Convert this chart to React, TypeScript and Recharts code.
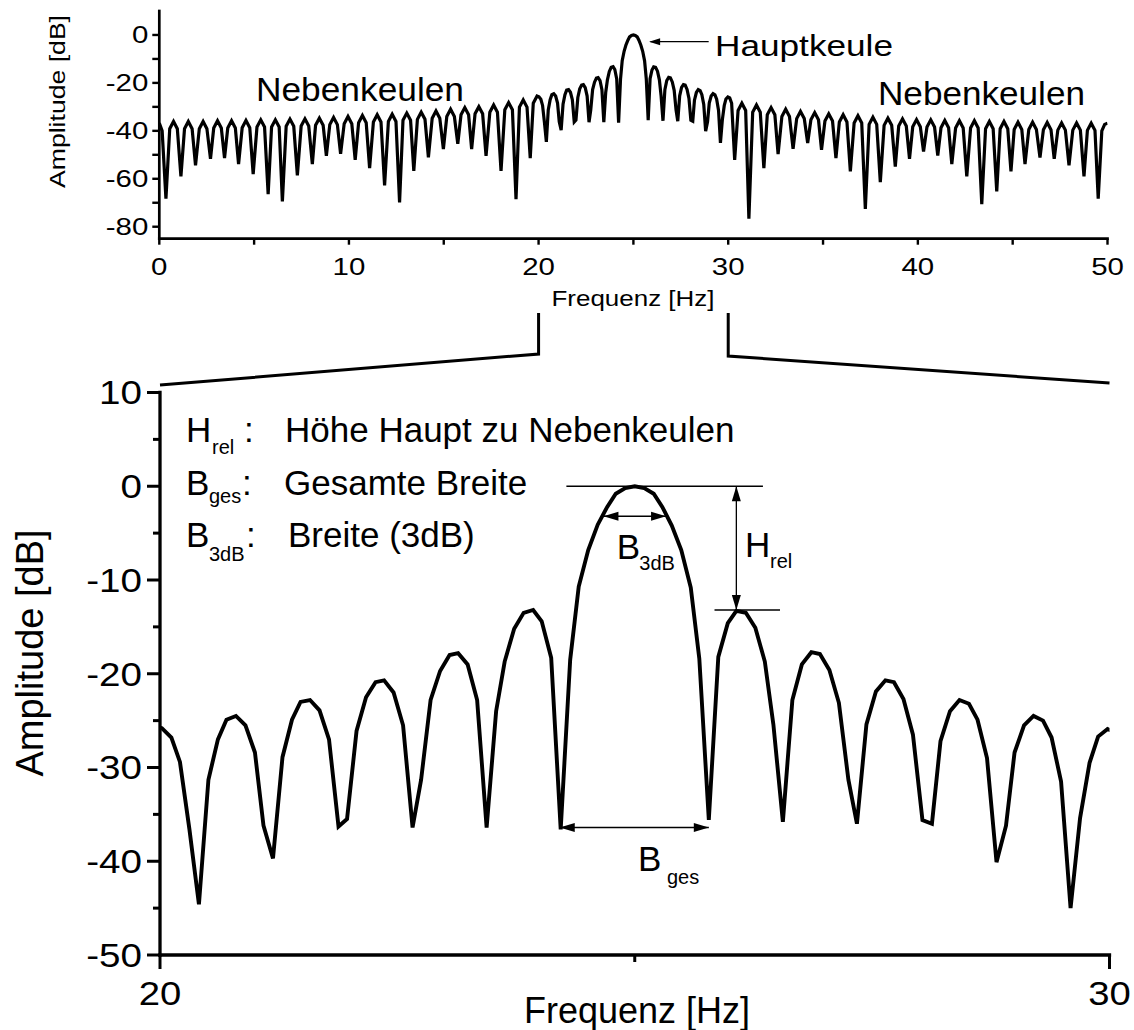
import React from 'react';
import { LineChart, Line, XAxis, YAxis } from 'recharts';

const FONT = '"Liberation Sans", Arial, Helvetica, sans-serif';

// ---------- DATA ----------
// zoomed range 20–30 Hz (FFT bins), shared by both panels
const zoomFreq = [
  19.92, 20.02, 20.12, 20.21, 20.31, 20.41, 20.51, 20.61, 20.70, 20.80, 20.90,
  21.00, 21.09, 21.19, 21.29, 21.39, 21.48, 21.58, 21.68, 21.78, 21.88, 21.97,
  22.07, 22.17, 22.27, 22.36, 22.46, 22.56, 22.66, 22.75, 22.85, 22.95,
  23.05, 23.14, 23.24, 23.34, 23.44, 23.54, 23.63, 23.73, 23.83, 23.93,
  24.02, 24.12, 24.22, 24.32, 24.41, 24.51, 24.61, 24.71, 24.80, 24.90,
  25.00, 25.10, 25.20, 25.29, 25.39, 25.49, 25.59, 25.68, 25.78, 25.88, 25.98,
  26.07, 26.17, 26.27, 26.37, 26.46, 26.56, 26.66, 26.76, 26.86, 26.95,
  27.05, 27.15, 27.25, 27.34, 27.44, 27.54, 27.64, 27.73, 27.83, 27.93,
  28.03, 28.13, 28.22, 28.32, 28.42, 28.52, 28.61, 28.71, 28.81, 28.91,
  29.00, 29.10, 29.20, 29.30, 29.39, 29.49, 29.59, 29.69, 29.79, 29.88, 29.98, 30.08,
];
const zoomDb = [
  -25.5, -25.8, -26.8, -29.4, -36.6, -44.6, -31.3, -27.0, -24.9, -24.5, -25.5,
  -28.4, -36.2, -39.7, -28.9, -24.9, -23.0, -22.8, -23.9, -27.0, -36.3, -35.5,
  -26.1, -22.5, -20.9, -20.7, -22.0, -25.5, -36.4, -31.3, -22.8, -19.7,
  -18.0, -17.8, -19.0, -22.8, -36.4, -24.0, -18.7, -15.2, -13.5, -13.2,
  -14.4, -18.3, -36.6, -18.5, -10.7, -6.8, -4.1, -2.2, -0.8, -0.2,
  0.0, -0.2, -0.8, -2.2, -4.2, -6.8, -10.8, -18.4, -35.6, -18.2, -14.6,
  -13.3, -13.5, -15.1, -18.7, -25.4, -35.8, -22.8, -19.0, -17.7, -17.9,
  -19.6, -23.1, -31.3, -36.0, -25.4, -21.9, -20.7, -20.9, -22.7, -26.5,
  -35.6, -36.0, -27.2, -24.0, -22.8, -23.2, -24.9, -29.0, -40.1, -36.2,
  -28.4, -25.5, -24.5, -25.0, -26.8, -31.5, -45.0, -35.4, -29.5, -26.7, -25.9, -26.3,
];

// overview 0–20 Hz (dips, lobe shoulders and peaks)
const leftFreq = [
  0.00, 0.15,
  0.35, 0.55, 0.75, 0.95,
  1.14, 1.33, 1.53, 1.73,
  1.91, 2.11, 2.31, 2.51,
  2.70, 2.87, 3.07, 3.27,
  3.44, 3.61, 3.81, 4.01,
  4.18, 4.37, 4.57, 4.77,
  4.95, 5.15, 5.35, 5.55,
  5.74, 5.92, 6.12, 6.32,
  6.49, 6.69, 6.89, 7.09,
  7.28, 7.48, 7.68, 7.88,
  8.07, 8.24, 8.44, 8.64,
  8.81, 8.99, 9.19, 9.39,
  9.56, 9.75, 9.95, 10.15,
  10.33, 10.51, 10.71, 10.91,
  11.09, 11.29, 11.49, 11.69,
  11.88, 12.08, 12.28, 12.48,
  12.67, 12.85, 13.05, 13.25,
  13.42, 13.61, 13.81, 14.01,
  14.19, 14.39, 14.59, 14.79,
  14.98, 15.16, 15.36, 15.56,
  15.74, 15.91, 16.11, 16.31,
  16.47, 16.65, 16.85, 17.05,
  17.23, 17.43, 17.63, 17.83,
  18.02, 18.22, 18.42, 18.62,
  18.81, 18.99, 19.19, 19.39,
  19.56, 19.72,
];
const leftDb = [
  -36.8, -40.0,
  -68.3, -39.1, -36.1, -39.1,
  -59.0, -39.1, -36.1, -39.1,
  -54.4, -39.1, -36.1, -39.1,
  -51.7, -38.8, -35.8, -38.8,
  -51.4, -38.8, -35.8, -38.8,
  -53.9, -38.7, -35.7, -38.7,
  -58.1, -38.4, -35.4, -38.4,
  -66.4, -38.4, -35.4, -38.4,
  -69.4, -38.1, -35.1, -38.1,
  -58.6, -38.0, -35.0, -38.0,
  -53.9, -37.7, -34.7, -37.7,
  -50.4, -37.4, -34.4, -37.4,
  -49.6, -37.0, -34.0, -37.0,
  -52.1, -36.6, -33.6, -36.6,
  -55.6, -36.3, -33.3, -36.3,
  -62.8, -36.1, -33.1, -36.1,
  -69.9, -35.6, -32.6, -35.6,
  -56.7, -35.2, -32.2, -35.2,
  -51.1, -34.7, -31.7, -34.7,
  -47.6, -34.0, -31.0, -34.0,
  -45.4, -33.3, -30.3, -33.3,
  -47.6, -32.9, -29.9, -32.9,
  -50.4, -32.2, -29.2, -32.2,
  -56.7, -31.2, -28.2, -31.2,
  -68.5, -30.1, -27.1, -30.1,
  -51.4, -28.5,
];

// overview 30–50 Hz
const rightFreq = [
  30.18,
  30.34, 30.52, 30.72, 30.92,
  31.09, 31.29, 31.49, 31.69,
  31.88, 32.06, 32.26, 32.46,
  32.63, 32.83, 33.03, 33.23,
  33.42, 33.61, 33.81, 34.01,
  34.19, 34.36, 34.56, 34.76,
  34.92, 35.10, 35.30, 35.50,
  35.68, 35.86, 36.06, 36.26,
  36.44, 36.64, 36.84, 37.04,
  37.23, 37.43, 37.63, 37.83,
  38.02, 38.22, 38.42, 38.62,
  38.81, 38.99, 39.19, 39.39,
  39.56, 39.73, 39.93, 40.13,
  40.30, 40.48, 40.68, 40.88,
  41.05, 41.22, 41.42, 41.62,
  41.79, 41.99, 42.19, 42.39,
  42.58, 42.78, 42.98, 43.18,
  43.37, 43.57, 43.77, 43.97,
  44.16, 44.34, 44.54, 44.74,
  44.91, 45.08, 45.28, 45.48,
  45.65, 45.85, 46.05, 46.25,
  46.44, 46.62, 46.82, 47.02,
  47.19, 47.38, 47.58, 47.78,
  47.97, 48.17, 48.37, 48.57,
  48.76, 48.94, 49.14, 49.34,
  49.51, 49.70, 49.85, 50.00,
];
const rightDb = [
  -28.5,
  -52.1, -31.5, -28.5, -31.5,
  -76.7, -32.2, -29.2, -32.2,
  -55.6, -33.3, -30.3, -33.3,
  -49.7, -34.0, -31.0, -34.0,
  -47.5, -34.9, -31.9, -34.9,
  -45.1, -35.4, -32.4, -35.4,
  -47.9, -35.9, -32.9, -35.9,
  -51.4, -36.3, -33.3, -36.3,
  -56.9, -36.7, -33.7, -36.7,
  -72.6, -37.3, -34.3, -37.3,
  -61.4, -37.7, -34.7, -37.7,
  -54.9, -38.0, -35.0, -38.0,
  -51.7, -38.3, -35.3, -38.3,
  -48.6, -38.4, -35.4, -38.4,
  -50.3, -38.7, -35.7, -38.7,
  -53.9, -38.8, -35.8, -38.8,
  -59.0, -38.8, -35.8, -38.8,
  -70.6, -39.1, -36.1, -39.1,
  -65.3, -39.1, -36.1, -39.1,
  -56.9, -39.4, -36.4, -39.4,
  -53.9, -39.4, -36.4, -39.4,
  -51.1, -39.5, -36.5, -39.5,
  -51.7, -39.7, -36.7, -39.7,
  -54.4, -39.7, -36.7, -39.7,
  -59.0, -39.8, -36.8, -39.8,
  -68.3, -40.0, -37.3, -36.8,
];

// ticks
const topXTicks = [0, 5, 10, 15, 20, 25, 30, 35, 40, 45, 50];
const topXLabels = [0, 10, 20, 30, 40, 50];
const topXInner = [5, 10, 15, 20, 25, 30, 35, 40, 45];
const topYTicks = [0, -10, -20, -30, -40, -50, -60, -70, -80];
const topYLabels = [0, -20, -40, -60, -80];
const botXTicks = [20, 25, 30];
const botXLabels = [20, 30];
const botXInner = [25];
const botYTicks = [10, 5, 0, -5, -10, -15, -20, -25, -30, -35, -40, -45, -50];
const botYLabels = [10, 0, -10, -20, -30, -40, -50];

const zip = (f: number[], d: number[]) => f.map((x, i) => ({ f: x, db: d[i] }));
const zoomData = zip(zoomFreq, zoomDb);
const topData = [...zip(leftFreq, leftDb), ...zoomData, ...zip(rightFreq, rightDb)];

// ---------- LAYOUT ----------
const W = 1134;
const H = 1030;
const TP = { l: 159.3, r: 1107.5, t: 11, b: 238.7 };
const BP = { l: 160, r: 1109.5, t: 392.5, b: 955 };
const TX = [0, 50];
const TY = [-85, 10];
const BX = [20, 30];
const BY = [-50, 10];
const tx = (f: number) => TP.l + ((f - TX[0]) / (TX[1] - TX[0])) * (TP.r - TP.l);
const ty = (v: number) => TP.t + ((TY[1] - v) / (TY[1] - TY[0])) * (TP.b - TP.t);
const bx = (f: number) => BP.l + ((f - BX[0]) / (BX[1] - BX[0])) * (BP.r - BP.l);
const by = (v: number) => BP.t + ((BY[1] - v) / (BY[1] - BY[0])) * (BP.b - BP.t);

const T = ({ x, y, size, anchor = 'start', sx = 1, rot = 0, children }: any) => (
  <text
    transform={`translate(${x} ${y}) rotate(${rot}) scale(${sx} 1)`}
    fontSize={size}
    fontFamily={FONT}
    textAnchor={anchor}
    fill="#000"
  >
    {children}
  </text>
);

// ---------- custom ticks ----------
const topBottomTick = (p: any) => {
  const v = p.payload.value;
  const x = p.x;
  return (
    <g>
      <line x1={x} x2={x} y1={TP.b} y2={TP.b + 6} stroke="#000" strokeWidth={2.4} />
      {topXLabels.includes(v) && (
        <T x={x} y={TP.b + 36.5} size={23} anchor="middle" sx={1.28}>{String(v)}</T>
      )}
    </g>
  );
};
const topTopTick = (p: any) => (
  <line x1={p.x} x2={p.x} y1={TP.t} y2={TP.t + 6} stroke="#000" strokeWidth={2.4} />
);
const topLeftTick = (p: any) => {
  const v = p.payload.value;
  const y = p.y;
  return (
    <g>
      <line x1={TP.l - 7} x2={TP.l} y1={y} y2={y} stroke="#000" strokeWidth={2.4} />
      {topYLabels.includes(v) && (
        <T x={TP.l - 11} y={y + 8.2} size={23} anchor="end" sx={1.28}>{String(v)}</T>
      )}
    </g>
  );
};
const topRightTick = (p: any) => (
  <line x1={TP.r - 7} x2={TP.r} y1={p.y} y2={p.y} stroke="#000" strokeWidth={2.4} />
);

const botBottomTick = (p: any) => {
  const v = p.payload.value;
  const x = p.x;
  const major = botXLabels.includes(v);
  return (
    <g>
      <line x1={x} x2={x} y1={BP.b} y2={BP.b + (major ? 14 : 7)} stroke="#000" strokeWidth={3} />
      {major && <T x={x} y={BP.b + 50} size={33} anchor="middle" sx={1.16}>{String(v)}</T>}
    </g>
  );
};
const botTopTick = (p: any) => (
  <line x1={p.x} x2={p.x} y1={BP.t} y2={BP.t + 7} stroke="#000" strokeWidth={3} />
);
const botLeftTick = (p: any) => {
  const v = p.payload.value;
  const y = p.y;
  const major = botYLabels.includes(v);
  return (
    <g>
      <line x1={BP.l - (major ? 13 : 7)} x2={BP.l} y1={y} y2={y} stroke="#000" strokeWidth={3} />
      {major && <T x={BP.l - 18} y={y + 11.8} size={33} anchor="end" sx={1.17}>{String(v)}</T>}
    </g>
  );
};
const botRightTick = (p: any) => (
  <line x1={BP.r - 12} x2={BP.r} y1={p.y} y2={p.y} stroke="#000" strokeWidth={3} />
);

// ---------- annotation helpers ----------
const Head = ({ x, y, dx, dy, len = 14, hw = 4.5 }: any) => {
  const n = Math.hypot(dx, dy);
  const ux = dx / n;
  const uy = dy / n;
  const bxp = x - ux * len;
  const byp = y - uy * len;
  const pts = `${x},${y} ${bxp - uy * hw},${byp + ux * hw} ${bxp + uy * hw},${byp - ux * hw}`;
  return <polygon points={pts} fill="#000" />;
};
const DoubleArrow = ({ x1, y1, x2, y2, len = 14, hw = 4.5 }: any) => (
  <g>
    <line x1={x1} y1={y1} x2={x2} y2={y2} stroke="#000" strokeWidth={1.3} />
    <Head x={x1} y={y1} dx={x1 - x2} dy={y1 - y2} len={len} hw={hw} />
    <Head x={x2} y={y2} dx={x2 - x1} dy={y2 - y1} len={len} hw={hw} />
  </g>
);

const Overlay = () => {
  const z20 = tx(20);
  const z30 = tx(30);
  return (
    <svg
      width={W}
      height={H}
      style={{ position: 'absolute', left: 0, top: 0, pointerEvents: 'none' }}
    >
      {/* top panel titles */}
      <text
        transform={`translate(64.5 101.5) rotate(-90)`}
        fontSize={22}
        fontFamily={FONT}
        textAnchor="middle"
        textLength={173}
        lengthAdjust="spacingAndGlyphs"
      >
        Amplitude [dB]
      </text>
      <text
        x={633}
        y={306}
        fontSize={22}
        fontFamily={FONT}
        textAnchor="middle"
        textLength={163}
        lengthAdjust="spacingAndGlyphs"
      >
        Frequenz [Hz]
      </text>
      {/* top panel annotations */}
      <text x={256} y={101} fontSize={32.5} fontFamily={FONT} textLength={208} lengthAdjust="spacingAndGlyphs">
        Nebenkeulen
      </text>
      <text x={878} y={105} fontSize={32.5} fontFamily={FONT} textLength={207} lengthAdjust="spacingAndGlyphs">
        Nebenkeulen
      </text>
      <text x={715} y={56} fontSize={30} fontFamily={FONT} textLength={178} lengthAdjust="spacingAndGlyphs">
        Hauptkeule
      </text>
      <line x1={tx(28.97)} y1={ty(-2.8)} x2={tx(25.9)} y2={ty(-2.8)} stroke="#000" strokeWidth={1.3} />
      <Head x={tx(25.83)} y={ty(-2.8)} dx={-1} dy={0} len={11} hw={3.5} />

      {/* connectors */}
      <path
        d={`M${z20},313 L${z20},354 L${BP.l},385`}
        fill="none"
        stroke="#000"
        strokeWidth={3}
      />
      <path
        d={`M${z30},313 L${z30},356 L${BP.r},383`}
        fill="none"
        stroke="#000"
        strokeWidth={3}
      />

      {/* legend in bottom panel */}
      <T x={186} y={441.7} size={35}>H</T>
      <T x={212} y={454} size={20}>rel</T>
      <T x={244} y={441.7} size={35}>:</T>
      <T x={285} y={441.7} size={35}>Höhe Haupt zu Nebenkeulen</T>

      <T x={186} y={495} size={35}>B</T>
      <T x={209} y={503} size={20}>ges</T>
      <T x={242} y={495} size={35}>:</T>
      <T x={284} y={495} size={35}>Gesamte Breite</T>

      <T x={186} y={546.7} size={35}>B</T>
      <T x={209} y={561} size={20}>3dB</T>
      <T x={246} y={546.7} size={35}>:</T>
      <T x={288} y={546.7} size={35}>Breite (3dB)</T>

      {/* measurement marks */}
      <line x1={bx(24.28)} x2={bx(26.35)} y1={by(0)} y2={by(0)} stroke="#000" strokeWidth={1.3} />
      <line x1={bx(25.84)} x2={bx(26.53)} y1={by(-13.2)} y2={by(-13.2)} stroke="#000" strokeWidth={1.3} />
      <DoubleArrow x1={bx(26.07)} y1={by(0)} x2={bx(26.07)} y2={by(-13.2)} len={15} hw={4.5} />
      <DoubleArrow x1={bx(24.67)} y1={by(-3.2)} x2={bx(25.33)} y2={by(-3.2)} len={15} hw={4.5} />
      <DoubleArrow x1={bx(24.21)} y1={by(-36.4)} x2={bx(25.78)} y2={by(-36.4)} len={15} hw={4.5} />

      <T x={616.7} y={559.3} size={35}>B</T>
      <T x={639.3} y={570} size={20}>3dB</T>
      <T x={745} y={557.3} size={35}>H</T>
      <T x={770} y={567.7} size={20}>rel</T>
      <T x={638} y={871} size={35}>B</T>
      <T x={667} y={884} size={20}>ges</T>

      {/* bottom panel titles */}
      <T x={42.5} y={653} size={38} anchor="middle" rot={-90}>Amplitude [dB]</T>
      <T x={637} y={1023} size={36} anchor="middle">Frequenz [Hz]</T>
    </svg>
  );
};

export default function App() {
  return (
    <div style={{ position: 'absolute', left: 0, top: 0, width: W, height: H, background: '#fff' }}>
      {/* overview panel */}
      <div style={{ position: 'absolute', left: 0, top: 0 }}>
        <LineChart
          width={W}
          height={H}
          data={topData}
          margin={{ top: TP.t, right: W - TP.r, bottom: H - TP.b - 40, left: TP.l - 60 }}
        >
          <XAxis
            xAxisId="b"
            dataKey="f"
            type="number"
            domain={TX}
            ticks={topXTicks}
            interval={0}
            height={40}
            allowDataOverflow
            tickLine={false}
            axisLine={{ stroke: '#000', strokeWidth: 2.7, strokeLinecap: 'square' }}
            tick={topBottomTick}
          />
          <XAxis
            xAxisId="t"
            orientation="top"
            dataKey="f"
            type="number"
            domain={TX}
            ticks={topXInner}
            interval={0}
            height={0}
            allowDataOverflow
            tickLine={false}
            axisLine={{ stroke: '#000', strokeWidth: 2.7, strokeLinecap: 'square' }}
            tick={topTopTick}
          />
          <YAxis
            yAxisId="l"
            type="number"
            domain={TY}
            ticks={topYTicks}
            interval={0}
            width={60}
            allowDataOverflow
            tickLine={false}
            axisLine={{ stroke: '#000', strokeWidth: 2.7, strokeLinecap: 'square' }}
            tick={topLeftTick}
          />
          <YAxis
            yAxisId="r"
            orientation="right"
            type="number"
            domain={TY}
            ticks={topYTicks}
            interval={0}
            width={0}
            allowDataOverflow
            tickLine={false}
            axisLine={{ stroke: '#000', strokeWidth: 2.7, strokeLinecap: 'square' }}
            tick={topRightTick}
          />
          <Line
            xAxisId="b"
            yAxisId="l"
            dataKey="db"
            type="linear"
            stroke="#000"
            strokeWidth={3.2}
            dot={false}
            isAnimationActive={false}
          />
        </LineChart>
      </div>

      {/* zoom panel */}
      <div style={{ position: 'absolute', left: 0, top: 0 }}>
        <LineChart
          width={W}
          height={H}
          data={zoomData}
          margin={{ top: BP.t, right: W - BP.r, bottom: H - BP.b - 60, left: BP.l - 80 }}
        >
          <XAxis
            xAxisId="b"
            dataKey="f"
            type="number"
            domain={BX}
            ticks={botXTicks}
            interval={0}
            height={60}
            allowDataOverflow
            tickLine={false}
            axisLine={{ stroke: '#000', strokeWidth: 3.3, strokeLinecap: 'square' }}
            tick={botBottomTick}
          />
          <XAxis
            xAxisId="t"
            orientation="top"
            dataKey="f"
            type="number"
            domain={BX}
            ticks={botXInner}
            interval={0}
            height={0}
            allowDataOverflow
            tickLine={false}
            axisLine={{ stroke: '#000', strokeWidth: 3.3, strokeLinecap: 'square' }}
            tick={botTopTick}
          />
          <YAxis
            yAxisId="l"
            type="number"
            domain={BY}
            ticks={botYTicks}
            interval={0}
            width={80}
            allowDataOverflow
            tickLine={false}
            axisLine={{ stroke: '#000', strokeWidth: 3.3, strokeLinecap: 'square' }}
            tick={botLeftTick}
          />
          <YAxis
            yAxisId="r"
            orientation="right"
            type="number"
            domain={BY}
            ticks={botYTicks}
            interval={0}
            width={0}
            allowDataOverflow
            tickLine={false}
            axisLine={{ stroke: '#000', strokeWidth: 3.3, strokeLinecap: 'square' }}
            tick={botRightTick}
          />
          <Line
            xAxisId="b"
            yAxisId="l"
            dataKey="db"
            type="linear"
            stroke="#000"
            strokeWidth={3.9}
            dot={false}
            isAnimationActive={false}
          />
        </LineChart>
      </div>

      <Overlay />
    </div>
  );
}
